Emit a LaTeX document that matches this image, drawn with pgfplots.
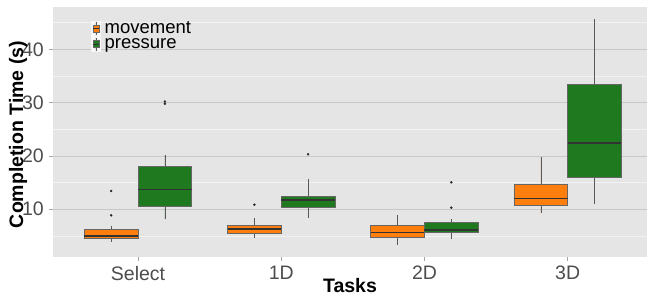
\documentclass[border=0pt]{standalone}
\usepackage{fontspec}
\setmainfont{Liberation Sans}
\usepackage{pgfplots}
\pgfplotsset{compat=1.18}
\usepgfplotslibrary{statistics}
\definecolor{bgpanel}{HTML}{E5E5E5}
\definecolor{gridmaj}{HTML}{C8C8C8}
\definecolor{gridmin}{HTML}{F2F2F2}
\definecolor{cOrange}{HTML}{FF7F0E}
\definecolor{cGreen}{HTML}{1F7A1F}
\definecolor{tickgray}{HTML}{4D4D4D}
\definecolor{boxline}{HTML}{666666}
\begin{document}
\begin{tikzpicture}
\begin{axis}[
  scale only axis, width=594pt, height=250pt,
  xmin=0.406, xmax=4.554, ymin=1.05, ymax=47.93,
  axis background/.style={fill=bgpanel},
  axis line style={draw=none},
  xtick={1,2,3,4}, xticklabels={Select,1D,2D,3D},
  ytick={10,20,30,40}, minor ytick={5,15,25,35,45},
  ymajorgrids, yminorgrids,
  major grid style={draw=gridmaj, line width=0.8pt},
  minor grid style={draw=gridmin, line width=0.8pt},
  minor tick length=0pt, major tick length=4pt,
  tick align=outside, xtick pos=left, ytick pos=left,
  tick style={draw=gray!70, line width=0.6pt},
  /pgf/number format/assume math mode=true,
  ticklabel style={font=\fontsize{19.5}{20}\selectfont, text=tickgray, inner sep=0pt},
  yticklabel style={xshift=-5pt},
  xticklabel style={yshift=-5pt},
  xlabel={Tasks}, ylabel={Completion Time (s)},
  label style={font=\fontsize{19.5}{20}\selectfont\bfseries, inner sep=0pt},
  xlabel style={at={(axis description cs:0.5,-0.084)}, anchor=north},
  ylabel style={at={(axis description cs:-0.0589,0.49)}, anchor=center},
  boxplot/draw direction=y,
  boxplot/box extend=0.375,
  boxplot/whisker extend=0,
  boxplot/every median/.style={draw=black!80, line width=1.2pt},
  boxplot/every whisker/.style={draw=gray!70!black, line width=0.6pt},
  boxplot/every box/.style={draw=boxline, line width=0.7pt},
  legend style={at={(rel axis cs:0.064,0.945)}, anchor=north west, draw=none, fill=none,
    font=\fontsize{18.5}{18.5}\selectfont, inner sep=0pt, row sep=0pt,
    nodes={inner sep=0pt, text height=12.5pt, text depth=3pt}},
  legend cell align=left,
  legend image code/.code={
    \fill[white!70!bgpanel] (-1.5pt,-7.5pt) rectangle (7.5pt,7.5pt);
    \draw[gray!70!black, line width=0.4pt] (3pt,-6.5pt)--(3pt,6.5pt);
    \draw[#1, draw=boxline, line width=0.4pt] (0pt,-3.5pt) rectangle (6pt,3.5pt);
    \draw[black!80, line width=0.8pt] (0pt,0pt)--(6pt,0pt);
    \path (11.5pt,0pt);
  },
]
\addlegendimage{fill=cOrange}
\addlegendentry{movement}
\addlegendimage{fill=cGreen}
\addlegendentry{pressure}

% Select
\addplot[fill=cOrange, draw=boxline, mark=*, mark size=1pt, mark options={fill=black!85, draw=black!85},
  boxplot prepared={draw position=0.8125, lower whisker=3.86, lower quartile=4.48, median=4.99, upper quartile=6.24, upper whisker=6.86}]
  table[row sep=\\, y index=0] {data\\ 8.87\\ 13.43\\};
\addplot[fill=cGreen, draw=boxline, mark=*, mark size=1pt, mark options={fill=black!85, draw=black!85},
  boxplot prepared={draw position=1.1875, lower whisker=8.1, lower quartile=10.6, median=13.74, upper quartile=17.98, upper whisker=20.2}]
  table[row sep=\\, y index=0] {data\\ 29.8\\ 30.2\\};
% 1D
\addplot[fill=cOrange, draw=boxline, mark=*, mark size=1pt, mark options={fill=black!85, draw=black!85},
  boxplot prepared={draw position=1.8125, lower whisker=4.55, lower quartile=5.49, median=6.3, upper quartile=7.0, upper whisker=8.3}]
  table[row sep=\\, y index=0] {data\\ 10.86\\};
\addplot[fill=cGreen, draw=boxline, mark=*, mark size=1pt, mark options={fill=black!85, draw=black!85},
  boxplot prepared={draw position=2.1875, lower whisker=8.3, lower quartile=10.3, median=11.74, upper quartile=12.49, upper whisker=15.68}]
  table[row sep=\\, y index=0] {data\\ 20.3\\};
% 2D
\addplot[fill=cOrange, draw=boxline,
  boxplot prepared={draw position=2.8125, lower whisker=3.24, lower quartile=4.67, median=5.67, upper quartile=7.0, upper whisker=8.98}]
  coordinates {};
\addplot[fill=cGreen, draw=boxline, mark=*, mark size=1pt, mark options={fill=black!85, draw=black!85},
  boxplot prepared={draw position=3.1875, lower whisker=4.36, lower quartile=5.61, median=6.11, upper quartile=7.48, upper whisker=8.17}]
  table[row sep=\\, y index=0] {data\\ 10.3\\ 15.05\\};
% 3D
\addplot[fill=cOrange, draw=boxline,
  boxplot prepared={draw position=3.8125, lower whisker=9.24, lower quartile=10.67, median=12.05, upper quartile=14.68, upper whisker=19.8}]
  coordinates {};
\addplot[fill=cGreen, draw=boxline,
  boxplot prepared={draw position=4.1875, lower whisker=10.93, lower quartile=16.0, median=22.43, upper quartile=33.43, upper whisker=45.6}]
  coordinates {};
\end{axis}
\pgfresetboundingbox
\path[use as bounding box] (-53pt,-38pt) rectangle (594pt,257pt);
\end{tikzpicture}
\end{document}
